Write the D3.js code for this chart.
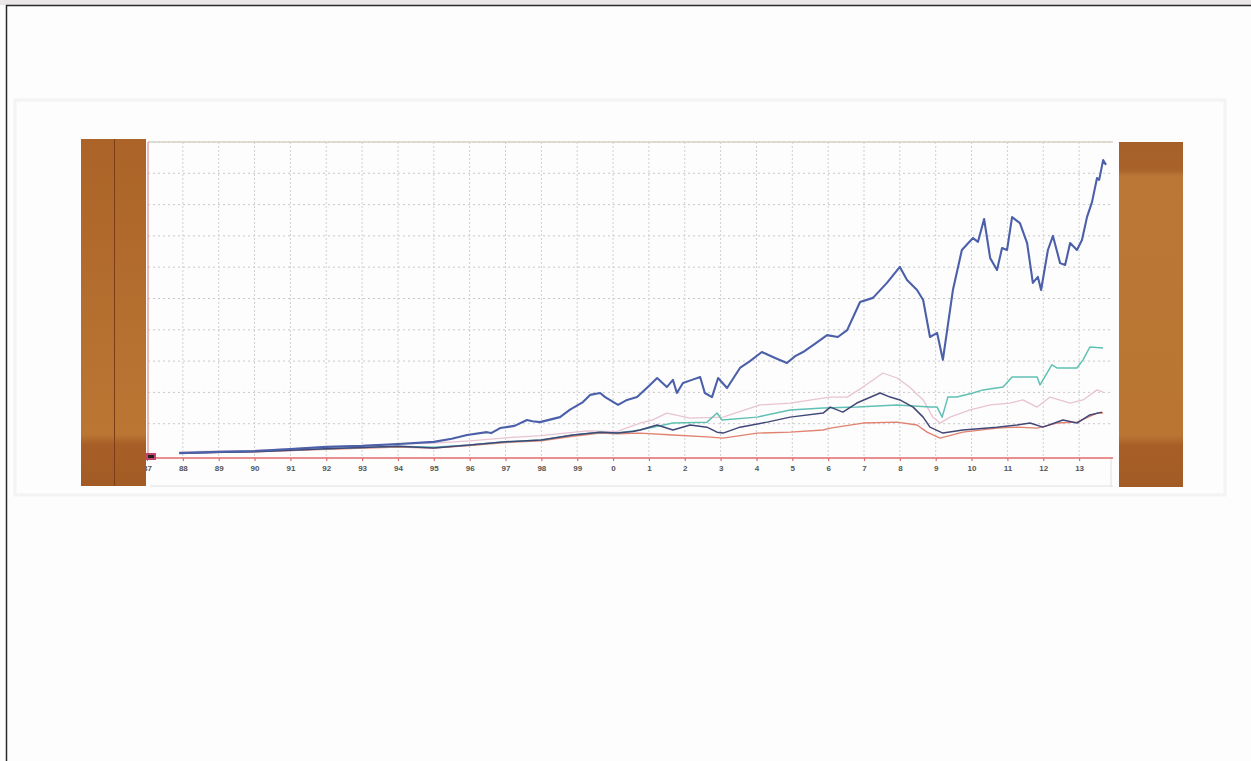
<!DOCTYPE html>
<html>
<head>
<meta charset="utf-8">
<title>Scanned index chart</title>
<style>
  body { margin: 0; background: #fdfdfd; }
  svg { display: block; }
</style>
</head>
<body>
<script src="https://cdn.jsdelivr.net/npm/d3@7"></script>
<script>
// tick years and their labels (two-digit, 2000 shown as "0")
var years = d3.range(1987, 2014);
var yearLabels = years.map(function (y) { return String(y % 100); });

// series: [decimal year, value in grid units]
var blueSeries = [
  [1987.9, 0.06], [1989.0, 0.10], [1990.0, 0.13], [1991.0, 0.19], [1992.0, 0.26], [1993.0, 0.29],
  [1994.0, 0.35], [1995.0, 0.42], [1995.5, 0.52], [1995.93, 0.64], [1996.48, 0.73], [1996.6, 0.70],
  [1996.85, 0.86], [1997.25, 0.93], [1997.6, 1.12], [1997.75, 1.08], [1997.96, 1.05], [1998.52, 1.21],
  [1998.8, 1.45], [1999.16, 1.69], [1999.36, 1.92], [1999.64, 1.98], [1999.78, 1.85], [2000.14, 1.60],
  [2000.39, 1.76], [2000.67, 1.85], [2001.03, 2.24], [2001.23, 2.46], [2001.5, 2.17], [2001.67, 2.40],
  [2001.78, 1.98], [2001.95, 2.30], [2002.2, 2.40], [2002.43, 2.49], [2002.56, 1.98], [2002.76, 1.85],
  [2002.93, 2.46], [2003.18, 2.14], [2003.54, 2.78], [2003.82, 3.00], [2004.15, 3.29], [2004.52, 3.10],
  [2004.85, 2.94], [2005.08, 3.16], [2005.3, 3.29], [2005.63, 3.55], [2005.97, 3.83], [2006.27, 3.77],
  [2006.53, 3.99], [2006.89, 4.89], [2007.25, 5.02], [2007.64, 5.50], [2008.0, 6.01], [2008.2, 5.59],
  [2008.48, 5.27], [2008.65, 4.95], [2008.84, 3.77], [2009.04, 3.90], [2009.2, 3.04], [2009.48, 5.27],
  [2009.73, 6.55], [2010.04, 6.93], [2010.18, 6.81], [2010.35, 7.54], [2010.52, 6.29], [2010.71, 5.91],
  [2010.85, 6.61], [2010.99, 6.55], [2011.13, 7.60], [2011.35, 7.41], [2011.55, 6.77], [2011.71, 5.50],
  [2011.85, 5.69], [2011.94, 5.27], [2012.13, 6.55], [2012.27, 7.00], [2012.47, 6.13], [2012.61, 6.07],
  [2012.75, 6.77], [2012.94, 6.55], [2013.08, 6.87], [2013.22, 7.60], [2013.36, 8.08], [2013.5, 8.85],
  [2013.56, 8.79], [2013.67, 9.42], [2013.75, 9.27]
];

var tealSeries = [
  [1987.9, 0.06], [1990, 0.12], [1992, 0.2], [1994, 0.28], [1995, 0.25], [1996, 0.32], [1997, 0.42],
  [1998, 0.48], [1998.88, 0.64], [1999.64, 0.73], [2000.11, 0.70], [2000.75, 0.80], [2001.67, 1.02],
  [2002.62, 1.05], [2002.9, 1.34], [2003.04, 1.12], [2004.02, 1.21], [2004.94, 1.44], [2005.86, 1.50],
  [2006.8, 1.53], [2007.92, 1.60], [2008.84, 1.53], [2009.04, 1.53], [2009.18, 1.21], [2009.34, 1.85],
  [2009.59, 1.85], [2010.04, 1.98], [2010.32, 2.08], [2010.88, 2.17], [2011.13, 2.49], [2011.83, 2.49],
  [2011.91, 2.24], [2012.24, 2.88], [2012.38, 2.78], [2012.94, 2.78], [2013.11, 3.04], [2013.3, 3.45],
  [2013.67, 3.42]
];

var pinkSeries = [
  [1987.9, 0.1], [1990, 0.15], [1992, 0.25], [1994, 0.35], [1995, 0.38], [1996, 0.45], [1997, 0.55],
  [1998, 0.62], [1999.27, 0.77], [2000.1, 0.75], [2000.75, 1.02], [2001.11, 1.12], [2001.5, 1.34],
  [2002.15, 1.18], [2003.07, 1.21], [2004.1, 1.60], [2004.94, 1.66], [2005.86, 1.82], [2006.06, 1.85],
  [2006.53, 1.85], [2006.97, 2.17], [2007.53, 2.62], [2007.92, 2.46], [2008.27, 2.17], [2008.65, 1.76],
  [2008.92, 1.21], [2009.12, 1.02], [2009.4, 1.21], [2009.96, 1.44], [2010.52, 1.60], [2011.07, 1.66],
  [2011.43, 1.76], [2011.83, 1.53], [2012.19, 1.85], [2012.75, 1.66], [2013.11, 1.76], [2013.5, 2.08],
  [2013.67, 2.01]
];

var navySeries = [
  [1987.9, 0.06], [1990, 0.1], [1992, 0.2], [1994, 0.28], [1995, 0.22], [1996, 0.32], [1997, 0.42],
  [1998, 0.48], [1998.88, 0.64], [1999.64, 0.73], [2000.11, 0.70], [2000.56, 0.75], [2000.75, 0.80],
  [2001.23, 0.96], [2001.67, 0.80], [2002.15, 0.96], [2002.62, 0.89], [2002.9, 0.73], [2003.07, 0.70],
  [2003.54, 0.89], [2004.3, 1.05], [2004.94, 1.21], [2005.86, 1.34], [2006.06, 1.53], [2006.41, 1.37],
  [2006.8, 1.66], [2007.45, 1.98], [2007.73, 1.85], [2008.0, 1.76], [2008.37, 1.53], [2008.65, 1.21],
  [2008.84, 0.89], [2009.2, 0.70], [2009.76, 0.80], [2010.71, 0.89], [2011.27, 0.96], [2011.63, 1.02],
  [2011.99, 0.89], [2012.55, 1.12], [2012.94, 1.02], [2013.3, 1.28], [2013.64, 1.37]
];

var orangeSeries = [
  [1987.9, 0.06], [1990, 0.1], [1992, 0.18], [1994, 0.25], [1995, 0.22], [1996, 0.3], [1997, 0.4],
  [1998, 0.45], [1998.88, 0.6], [1999.64, 0.70], [2000.11, 0.68], [2000.75, 0.70], [2001.67, 0.64],
  [2002.62, 0.58], [2003.07, 0.54], [2004.02, 0.70], [2004.94, 0.73], [2005.86, 0.80], [2006.06, 0.86],
  [2006.97, 1.02], [2007.92, 1.05], [2008.48, 0.96], [2008.76, 0.73], [2009.12, 0.54], [2009.76, 0.73],
  [2010.71, 0.86], [2011.27, 0.89], [2011.83, 0.86], [2012.38, 1.02], [2012.94, 1.05], [2013.5, 1.34],
  [2013.67, 1.34]
];

var gridLevels = d3.range(1, 11);

var W = 1251, H = 761;
var plotLeft = 148, plotRight = 1113, plotTop = 142, plotBottom = 455, axisY = 458;

var svg = d3.select("body").append("svg")
    .attr("width", W)
    .attr("height", H);

// page (scanned sheet)
svg.append("rect").attr("width", W).attr("height", H).attr("fill", "#fdfdfd");
svg.append("rect").attr("x", 0).attr("y", 0).attr("width", W).attr("height", 5).attr("fill", "#ebe7e8");
svg.append("line").attr("x1", 6.5).attr("x2", 6.5).attr("y1", 5).attr("y2", H)
    .style("stroke", "#2b2b2b").style("stroke-width", 1.5);
svg.append("line").attr("x1", 6).attr("x2", W).attr("y1", 5.5).attr("y2", 5.5)
    .style("stroke", "#2b2b2b").style("stroke-width", 1.5);

// faint scan shadows round the printed sheet
svg.append("rect").attr("x", 15).attr("y", 100).attr("width", 1210).attr("height", 395)
    .attr("fill", "none").style("stroke", "#f3f3f3").style("stroke-width", 3);
svg.append("line").attr("x1", 150).attr("x2", 1113).attr("y1", 486).attr("y2", 486)
    .style("stroke", "#e0e0e0").style("stroke-width", 1);
svg.append("line").attr("x1", 1111).attr("x2", 1111).attr("y1", 458).attr("y2", 487)
    .style("stroke", "#e0e0e0").style("stroke-width", 1);

var x = d3.scaleLinear().domain([1987, 2014]).range([147, 147 + 27 * 35.85]);
var y = d3.scaleLinear().domain([0, 10]).range([plotBottom, plotTop]);

// grid
var grid = svg.append("g");
grid.selectAll(".hg").data(gridLevels).enter().append("line")
    .attr("x1", plotLeft).attr("x2", plotRight - 2)
    .attr("y1", function (d) { return y(d); })
    .attr("y2", function (d) { return y(d); })
    .style("stroke", "#c9c9c9")
    .style("stroke-width", 1)
    .style("stroke-dasharray", "2,3");
grid.selectAll(".vg").data(years.slice(1)).enter().append("line")
    .attr("x1", function (d) { return x(d); })
    .attr("x2", function (d) { return x(d); })
    .attr("y1", plotTop).attr("y2", axisY)
    .style("stroke", "#cfcfcf")
    .style("stroke-width", 1)
    .style("stroke-dasharray", "2,2");

// top frame line
svg.append("line").attr("x1", plotLeft).attr("x2", plotRight).attr("y1", plotTop).attr("y2", plotTop)
    .style("stroke", "#d8d2c4").style("stroke-width", 1.5);

// left red edge
svg.append("line").attr("x1", plotLeft).attr("x2", plotLeft).attr("y1", plotTop).attr("y2", axisY)
    .style("stroke", "#e78b8b").style("stroke-width", 1.2);

// series
var line = d3.line()
    .x(function (d) { return x(d[0]); })
    .y(function (d) { return y(d[1]); });

var series = [
  { data: pinkSeries, color: "#e8c3d4", w: 1.3 },
  { data: orangeSeries, color: "#e0826f", w: 1.4 },
  { data: tealSeries, color: "#5fc0b3", w: 1.5 },
  { data: navySeries, color: "#414777", w: 1.5 },
  { data: blueSeries, color: "#4b60a9", w: 2.1 }
];

svg.selectAll(".series").data(series).enter().append("path")
    .attr("class", "series")
    .attr("d", function (d) { return line(d.data); })
    .style("fill", "none")
    .style("stroke", function (d) { return d.color; })
    .style("stroke-width", function (d) { return d.w; })
    .style("stroke-linejoin", "round");

// x axis
var xAxis = d3.axisBottom(x)
    .tickValues(years)
    .tickFormat(function (d, i) { return yearLabels[i]; })
    .tickSize(3)
    .tickPadding(4);

var ax = svg.append("g")
    .attr("transform", "translate(0," + axisY + ")")
    .call(xAxis);
ax.select(".domain").remove();
ax.append("line").attr("x1", plotLeft).attr("x2", plotRight).attr("y1", 0).attr("y2", 0)
    .style("stroke", "#e36a6a").style("stroke-width", 1.3);
ax.selectAll(".tick line").style("stroke", "#e36a6a").style("stroke-width", 1.2);
ax.selectAll(".tick text")
    .style("font-family", "'Liberation Sans', Arial, sans-serif")
    .style("font-size", "8px")
    .style("font-weight", "bold")
    .style("fill", "#555");

// small marker at the origin
svg.append("rect").attr("x", 146).attr("y", 453).attr("width", 10).attr("height", 7)
    .attr("fill", "#c2456a");
svg.append("rect").attr("x", 148).attr("y", 455).attr("width", 6).attr("height", 3)
    .attr("fill", "#222");

// brown tape strips over both sides
var defs = svg.append("defs");
var tapeL = defs.append("linearGradient")
    .attr("id", "tapeL").attr("x1", 0).attr("x2", 0).attr("y1", 0).attr("y2", 1);
tapeL.append("stop").attr("offset", "0").attr("stop-color", "#ab6327");
tapeL.append("stop").attr("offset", "0.85").attr("stop-color", "#bb7634");
tapeL.append("stop").attr("offset", "0.88").attr("stop-color", "#a85f27");
tapeL.append("stop").attr("offset", "1").attr("stop-color", "#a35b25");

var tapeR = defs.append("linearGradient")
    .attr("id", "tapeR").attr("x1", 0).attr("x2", 0).attr("y1", 0).attr("y2", 1);
tapeR.append("stop").attr("offset", "0").attr("stop-color", "#a55f28");
tapeR.append("stop").attr("offset", "0.08").attr("stop-color", "#a8622a");
tapeR.append("stop").attr("offset", "0.1").attr("stop-color", "#bb7736");
tapeR.append("stop").attr("offset", "0.85").attr("stop-color", "#ba7533");
tapeR.append("stop").attr("offset", "0.88").attr("stop-color", "#a85f27");
tapeR.append("stop").attr("offset", "1").attr("stop-color", "#a35b25");

svg.append("rect").attr("x", 81).attr("y", 139).attr("width", 65).attr("height", 347)
    .attr("fill", "url(#tapeL)");
svg.append("line").attr("x1", 114.5).attr("x2", 114.5).attr("y1", 139).attr("y2", 486)
    .style("stroke", "#7a3f17").style("stroke-width", 1);
svg.append("rect").attr("x", 1119).attr("y", 142).attr("width", 64).attr("height", 345)
    .attr("fill", "url(#tapeR)");
</script>
</body>
</html>
